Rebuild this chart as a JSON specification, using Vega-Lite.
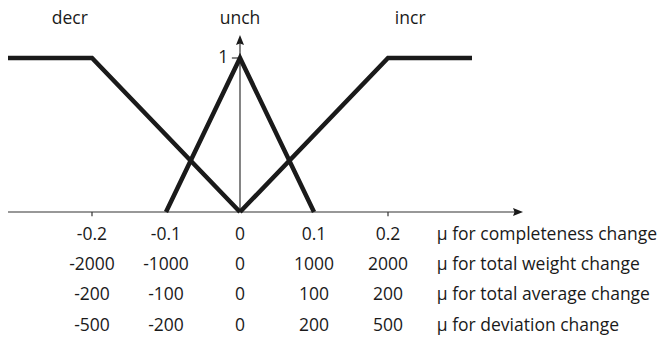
{
  "$schema": "https://vega.github.io/schema/vega-lite/v6.json",
  "width": 661,
  "height": 338,
  "autosize": {"type": "none"},
  "padding": 0,
  "config": {
    "view": {"stroke": null},
    "locale": {"number": {"decimal": ".", "thousands": ",", "grouping": [3], "currency": ["$", ""], "minus": "-"}},
    "text": {"font": "Open Sans", "fontSize": 17.5, "color": "#1a1a1a"}
  },
  "datasets": {
    "membership": [
      {"set": "decr", "change": -0.3135, "mu": 1},
      {"set": "decr", "change": -0.2, "mu": 1},
      {"set": "decr", "change": 0, "mu": 0},
      {"set": "unch", "change": -0.1, "mu": 0},
      {"set": "unch", "change": 0, "mu": 1},
      {"set": "unch", "change": 0.1, "mu": 0},
      {"set": "incr", "change": 0, "mu": 0},
      {"set": "incr", "change": 0.2, "mu": 1},
      {"set": "incr", "change": 0.3135, "mu": 1}
    ],
    "setNames": [
      {"set": "decr", "change": -0.23},
      {"set": "unch", "change": 0},
      {"set": "incr", "change": 0.23}
    ],
    "ticks": [
      {"tick": -0.2, "measure": "completeness", "value": -0.2},
      {"tick": -0.1, "measure": "completeness", "value": -0.1},
      {"tick": 0, "measure": "completeness", "value": 0},
      {"tick": 0.1, "measure": "completeness", "value": 0.1},
      {"tick": 0.2, "measure": "completeness", "value": 0.2},
      {"tick": -0.2, "measure": "total weight", "value": -2000},
      {"tick": -0.1, "measure": "total weight", "value": -1000},
      {"tick": 0, "measure": "total weight", "value": 0},
      {"tick": 0.1, "measure": "total weight", "value": 1000},
      {"tick": 0.2, "measure": "total weight", "value": 2000},
      {"tick": -0.2, "measure": "total average", "value": -200},
      {"tick": -0.1, "measure": "total average", "value": -100},
      {"tick": 0, "measure": "total average", "value": 0},
      {"tick": 0.1, "measure": "total average", "value": 100},
      {"tick": 0.2, "measure": "total average", "value": 200},
      {"tick": -0.2, "measure": "deviation", "value": -500},
      {"tick": -0.1, "measure": "deviation", "value": -200},
      {"tick": 0, "measure": "deviation", "value": 0},
      {"tick": 0.1, "measure": "deviation", "value": 200},
      {"tick": 0.2, "measure": "deviation", "value": 500}
    ],
    "measures": [
      {"measure": "completeness", "text": "μ for completeness change"},
      {"measure": "total weight", "text": "μ for total weight change"},
      {"measure": "total average", "text": "μ for total average change"},
      {"measure": "deviation", "text": "μ for deviation change"}
    ]
  },
  "layer": [
    {
      "layer": [
        {
          "data": {"values": [{"from": -0.3135, "to": 0.372, "level": 0}]},
          "mark": {"type": "rule", "color": "#333333", "strokeWidth": 1.2},
          "encoding": {
            "x": {"field": "from", "type": "quantitative", "scale": {"domain": [-0.324324, 0.568919], "nice": false, "zero": false}, "axis": null},
            "x2": {"field": "to"},
            "y": {"field": "level", "type": "quantitative", "scale": {"domain": [-0.818182, 1.376623], "nice": false, "zero": false}, "axis": null}
          }
        },
        {
          "data": {"values": [{"at": 0, "from": 0, "to": 1.1}]},
          "mark": {"type": "rule", "color": "#333333", "strokeWidth": 1.2},
          "encoding": {
            "x": {"field": "at", "type": "quantitative"},
            "y": {"field": "from", "type": "quantitative"},
            "y2": {"field": "to"}
          }
        },
        {
          "data": {"values": [{"tick": -0.2}, {"tick": 0.2}]},
          "mark": {"type": "rule", "color": "#333333", "strokeWidth": 1.2},
          "encoding": {
            "x": {"field": "tick", "type": "quantitative"},
            "y": {"datum": 0, "type": "quantitative"},
            "y2": {"datum": -0.028}
          }
        },
        {
          "data": {"values": [{"mu": 1}]},
          "mark": {"type": "rule", "color": "#333333", "strokeWidth": 1.2},
          "encoding": {
            "x": {"datum": -0.011, "type": "quantitative"},
            "x2": {"datum": 0},
            "y": {"field": "mu", "type": "quantitative"}
          }
        },
        {
          "data": {"values": [{"change": 0.3757, "mu": 0}]},
          "mark": {"type": "point", "shape": "M-1,-0.8L1,0L-1,0.8L-0.7,0Z", "filled": true, "color": "#1a1a1a", "size": 100, "opacity": 1},
          "encoding": {
            "x": {"field": "change", "type": "quantitative"},
            "y": {"field": "mu", "type": "quantitative"}
          }
        },
        {
          "data": {"values": [{"change": 0, "mu": 1.1169}]},
          "mark": {"type": "point", "shape": "M-0.8,1L0,-1L0.8,1L0,0.7Z", "filled": true, "color": "#1a1a1a", "size": 100, "opacity": 1},
          "encoding": {
            "x": {"field": "change", "type": "quantitative"},
            "y": {"field": "mu", "type": "quantitative"}
          }
        },
        {
          "data": {"name": "membership"},
          "mark": {"type": "line", "color": "#1a1a1a", "strokeWidth": 4.5, "strokeCap": "butt", "strokeJoin": "miter"},
          "encoding": {
            "x": {"field": "change", "type": "quantitative"},
            "y": {"field": "mu", "type": "quantitative"},
            "detail": {"field": "set"}
          }
        },
        {
          "data": {"name": "setNames"},
          "mark": {"type": "text", "baseline": "middle", "align": "center"},
          "encoding": {
            "x": {"field": "change", "type": "quantitative"},
            "y": {"datum": 1.253, "type": "quantitative"},
            "text": {"field": "set"}
          }
        },
        {
          "data": {"values": [{"mu": 1}]},
          "mark": {"type": "text", "baseline": "middle", "align": "right"},
          "encoding": {
            "x": {"datum": -0.016, "type": "quantitative"},
            "y": {"field": "mu", "type": "quantitative"},
            "text": {"field": "mu", "type": "quantitative"}
          }
        }
      ]
    },
    {
      "layer": [
        {
          "data": {"name": "ticks"},
          "mark": {"type": "text", "baseline": "middle", "align": "center"},
          "encoding": {
            "x": {"field": "tick", "type": "quantitative"},
            "y": {"field": "measure", "type": "nominal", "sort": ["completeness", "total weight", "total average", "deviation"], "scale": {"type": "point", "padding": 0, "range": [234.5, 325.5]}, "axis": null},
            "text": {"field": "value", "type": "quantitative", "format": "~g"}
          }
        },
        {
          "data": {"name": "measures"},
          "mark": {"type": "text", "baseline": "middle", "align": "left"},
          "encoding": {
            "x": {"datum": 0.266, "type": "quantitative"},
            "y": {"field": "measure", "type": "nominal", "sort": ["completeness", "total weight", "total average", "deviation"]},
            "text": {"field": "text"}
          }
        }
      ]
    }
  ],
  "resolve": {"scale": {"y": "independent"}}
}
